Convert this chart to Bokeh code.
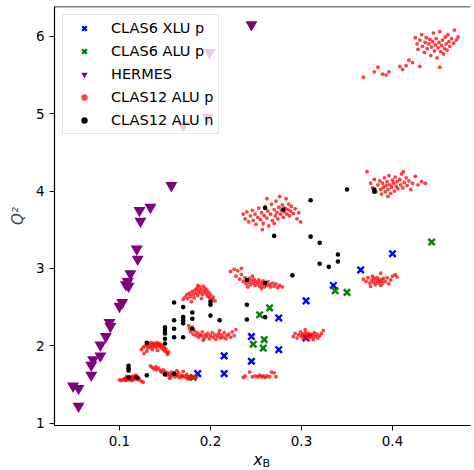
from bokeh.plotting import figure
from bokeh.models import Range1d, FixedTicker, Span, Title
from bokeh.embed import file_html
from bokeh.resources import INLINE

# ---------------- data ----------------
# CLAS6 XLU p
xlu6_x = [0.186, 0.215, 0.215, 0.245, 0.245, 0.275, 0.275, 0.305, 0.305, 0.335, 0.365, 0.400]
xlu6_y = [1.64, 1.64, 1.87, 1.80, 2.12, 1.95, 2.36, 2.10, 2.58, 2.78, 2.98, 3.19]

# CLAS6 ALU p
alu6_x = [0.181, 0.247, 0.258, 0.259, 0.254, 0.265, 0.337, 0.350, 0.443]
alu6_y = [1.59, 2.02, 1.97, 2.08, 2.40, 2.49, 2.71, 2.69, 3.34]

# HERMES
hermes_x = [0.055, 0.049, 0.055, 0.069, 0.069, 0.071, 0.079, 0.079, 0.085, 0.089, 0.090,
            0.100, 0.103, 0.107, 0.109, 0.110, 0.112, 0.120, 0.119, 0.123, 0.122, 0.134,
            0.157, 0.170, 0.197, 0.199, 0.245]
hermes_y = [1.22, 1.48, 1.45, 1.62, 1.75, 1.82, 1.87, 2.01, 2.12, 2.30, 2.25,
            2.51, 2.56, 2.79, 2.83, 2.77, 2.93, 3.12, 3.25, 3.61, 3.75, 3.79,
            4.07, 4.85, 4.95, 5.79, 6.15]

# CLAS12 ALU n
n12_x = [0.110, 0.110, 0.110, 0.110, 0.119, 0.130, 0.130, 0.150, 0.150, 0.150, 0.150, 0.150, 0.150,
         0.160, 0.160, 0.160, 0.160, 0.160, 0.170, 0.170, 0.170, 0.170, 0.170, 0.180, 0.180, 0.180,
         0.200, 0.200, 0.200, 0.210, 0.240, 0.240, 0.240, 0.260, 0.260, 0.260, 0.270, 0.280, 0.290,
         0.310, 0.310, 0.320, 0.320, 0.330, 0.340, 0.340, 0.350, 0.380, 0.380]
n12_y = [1.59, 1.68, 1.71, 1.74, 1.59, 1.62, 2.04, 1.63, 2.03, 2.09, 2.16, 2.20, 2.24,
         1.64, 2.11, 2.22, 2.33, 2.56, 2.11, 2.29, 2.33, 2.37, 2.50, 2.22, 2.35, 2.43,
         2.39, 2.53, 2.57, 2.33, 2.34, 2.53, 2.85, 2.37, 2.81, 3.78, 3.42, 3.76, 2.91,
         3.41, 3.88, 3.06, 3.33, 3.02, 3.09, 3.18, 4.02, 3.99, 4.02]

# CLAS12 ALU p  (one list of (xB, Q2) per kinematic bin)
p12_bin_a = [(0.100, 1.56), (0.102, 1.55), (0.104, 1.57), (0.105, 1.56), (0.106, 1.58), (0.107, 1.55),
             (0.108, 1.57), (0.109, 1.59), (0.110, 1.58), (0.110, 1.56), (0.111, 1.60), (0.112, 1.57),
             (0.112, 1.59), (0.113, 1.58), (0.114, 1.60), (0.114, 1.56), (0.115, 1.59), (0.116, 1.57),
             (0.116, 1.61), (0.117, 1.58), (0.118, 1.60), (0.119, 1.57), (0.120, 1.59), (0.121, 1.56),
             (0.122, 1.58), (0.124, 1.54), (0.126, 1.53), (0.108, 1.60), (0.113, 1.55), (0.118, 1.62)]
p12_bin_b = [(0.124, 1.95), (0.126, 1.98), (0.128, 2.00), (0.130, 2.01), (0.131, 1.97), (0.132, 2.03),
             (0.133, 2.00), (0.134, 1.98), (0.135, 2.04), (0.136, 2.02), (0.137, 1.99), (0.138, 2.03),
             (0.139, 2.01), (0.140, 1.98), (0.141, 2.04), (0.142, 2.02), (0.143, 1.99), (0.144, 2.03),
             (0.145, 2.00), (0.146, 1.97), (0.147, 2.01), (0.148, 1.95), (0.149, 1.98), (0.150, 1.93),
             (0.151, 1.96), (0.152, 1.91), (0.153, 1.89), (0.154, 1.92), (0.130, 1.93), (0.136, 1.95),
             (0.142, 1.94), (0.127, 1.90)]
p12_bin_c = [(0.134, 1.74), (0.136, 1.72), (0.138, 1.70), (0.140, 1.73), (0.141, 1.69), (0.143, 1.71),
             (0.145, 1.68), (0.146, 1.66), (0.148, 1.69), (0.149, 1.64), (0.150, 1.67), (0.152, 1.62),
             (0.153, 1.65), (0.155, 1.63), (0.156, 1.60), (0.157, 1.66), (0.158, 1.62), (0.160, 1.64),
             (0.161, 1.60), (0.162, 1.63), (0.164, 1.61), (0.165, 1.65), (0.166, 1.59), (0.168, 1.62),
             (0.169, 1.60), (0.170, 1.67), (0.171, 1.61), (0.173, 1.59), (0.174, 1.63), (0.176, 1.60),
             (0.177, 1.58), (0.179, 1.61), (0.181, 1.59), (0.183, 1.58), (0.185, 1.60), (0.163, 1.68),
             (0.175, 1.57), (0.155, 1.58)]
p12_bin_d = [(0.170, 2.60), (0.172, 2.63), (0.174, 2.66), (0.175, 2.61), (0.177, 2.68), (0.178, 2.64),
             (0.180, 2.70), (0.181, 2.66), (0.182, 2.62), (0.183, 2.72), (0.184, 2.68), (0.185, 2.74),
             (0.186, 2.65), (0.187, 2.71), (0.188, 2.76), (0.189, 2.69), (0.190, 2.73), (0.191, 2.66),
             (0.192, 2.77), (0.193, 2.70), (0.194, 2.74), (0.195, 2.67), (0.196, 2.72), (0.197, 2.64),
             (0.198, 2.69), (0.199, 2.62), (0.200, 2.66), (0.202, 2.60), (0.203, 2.63), (0.205, 2.58),
             (0.179, 2.57), (0.190, 2.61), (0.186, 2.78)]
p12_bin_e = [(0.176, 2.26), (0.177, 2.22), (0.178, 2.18), (0.180, 2.24), (0.181, 2.15), (0.182, 2.20),
             (0.184, 2.13), (0.185, 2.17), (0.187, 2.11), (0.188, 2.15), (0.190, 2.13), (0.191, 2.18),
             (0.193, 2.10), (0.194, 2.14), (0.196, 2.12), (0.197, 2.16), (0.199, 2.09), (0.200, 2.13),
             (0.202, 2.17), (0.203, 2.11), (0.205, 2.14), (0.206, 2.08), (0.208, 2.12), (0.209, 2.16),
             (0.211, 2.10), (0.212, 2.14), (0.214, 2.11), (0.215, 2.17), (0.217, 2.09), (0.218, 2.13),
             (0.220, 2.15), (0.222, 2.11), (0.224, 2.18), (0.226, 2.13), (0.228, 2.21), (0.192, 2.07),
             (0.210, 2.20)]
p12_bin_f = [(0.222, 2.96), (0.226, 2.99), (0.230, 2.97), (0.234, 3.00), (0.228, 2.90), (0.232, 2.86),
             (0.234, 2.92), (0.236, 2.83), (0.238, 2.88), (0.239, 2.80), (0.240, 2.85), (0.242, 2.82),
             (0.243, 2.87), (0.244, 2.79), (0.245, 2.84), (0.247, 2.81), (0.248, 2.86), (0.249, 2.78),
             (0.250, 2.83), (0.252, 2.80), (0.253, 2.85), (0.254, 2.77), (0.255, 2.82), (0.257, 2.79),
             (0.258, 2.84), (0.259, 2.76), (0.260, 2.81), (0.262, 2.78), (0.263, 2.83), (0.265, 2.79),
             (0.266, 2.76), (0.268, 2.81), (0.270, 2.77), (0.272, 2.80), (0.274, 2.75), (0.276, 2.78),
             (0.279, 2.76), (0.246, 2.90), (0.256, 2.74), (0.241, 2.76)]
p12_bin_g = [(0.236, 1.59), (0.238, 1.61), (0.243, 1.66), (0.246, 1.60), (0.249, 1.61), (0.252, 1.60),
             (0.254, 1.62), (0.256, 1.60), (0.258, 1.61), (0.260, 1.59), (0.262, 1.61), (0.265, 1.60),
             (0.267, 1.66), (0.270, 1.65), (0.272, 1.60)]
p12_bin_h = [(0.291, 2.12), (0.293, 2.16), (0.295, 2.10), (0.297, 2.14), (0.299, 2.18), (0.300, 2.12),
             (0.301, 2.15), (0.302, 2.09), (0.303, 2.13), (0.304, 2.17), (0.305, 2.11), (0.306, 2.14),
             (0.307, 2.16), (0.308, 2.10), (0.309, 2.13), (0.310, 2.15), (0.311, 2.11), (0.312, 2.14),
             (0.314, 2.17), (0.315, 2.12), (0.317, 2.15), (0.318, 2.10), (0.320, 2.13), (0.322, 2.16),
             (0.324, 2.20), (0.313, 2.08), (0.304, 2.21)]
p12_bin_i = [(0.236, 3.70), (0.238, 3.64), (0.240, 3.73), (0.242, 3.60), (0.244, 3.68), (0.246, 3.75),
             (0.247, 3.62), (0.249, 3.70), (0.250, 3.57), (0.252, 3.66), (0.253, 3.78), (0.255, 3.63),
             (0.256, 3.72), (0.258, 3.58), (0.259, 3.68), (0.260, 3.80), (0.262, 3.65), (0.263, 3.74),
             (0.264, 3.55), (0.266, 3.70), (0.267, 3.83), (0.268, 3.62), (0.270, 3.76), (0.271, 3.68),
             (0.272, 3.87), (0.273, 3.72), (0.274, 3.64), (0.275, 3.79), (0.276, 3.93), (0.277, 3.70),
             (0.278, 3.75), (0.279, 3.82), (0.280, 3.66), (0.281, 3.73), (0.282, 3.78), (0.283, 3.90),
             (0.284, 3.70), (0.285, 3.76), (0.286, 3.83), (0.287, 3.68), (0.288, 3.74), (0.289, 3.80),
             (0.291, 3.71), (0.293, 3.77), (0.295, 3.64), (0.297, 3.72), (0.299, 3.60), (0.262, 3.90),
             (0.257, 3.50), (0.270, 3.58)]
p12_bin_j = [(0.368, 2.86), (0.371, 2.83), (0.373, 2.88), (0.375, 2.81), (0.377, 2.85), (0.378, 2.90),
             (0.379, 2.82), (0.380, 2.87), (0.381, 2.79), (0.382, 2.84), (0.383, 2.88), (0.384, 2.81),
             (0.385, 2.86), (0.386, 2.83), (0.387, 2.78), (0.388, 2.85), (0.389, 2.81), (0.390, 2.87),
             (0.392, 2.83), (0.394, 2.88), (0.396, 2.80), (0.398, 2.85), (0.400, 2.90), (0.403, 2.92),
             (0.405, 2.89), (0.387, 2.94), (0.376, 2.77)]
p12_bin_k = [(0.372, 4.25), (0.376, 4.10), (0.378, 4.04), (0.380, 4.15), (0.382, 3.99), (0.384, 4.08),
             (0.386, 4.13), (0.387, 4.02), (0.388, 3.96), (0.389, 4.10), (0.390, 4.05), (0.391, 4.17),
             (0.392, 3.99), (0.393, 4.07), (0.394, 4.12), (0.395, 4.02), (0.396, 4.20), (0.397, 4.08),
             (0.398, 3.97), (0.399, 4.05), (0.400, 4.14), (0.401, 4.10), (0.402, 4.00), (0.403, 4.18),
             (0.404, 4.06), (0.405, 4.12), (0.406, 4.03), (0.408, 4.15), (0.409, 4.08), (0.410, 4.22),
             (0.411, 4.04), (0.413, 4.11), (0.415, 4.17), (0.416, 4.07), (0.418, 4.13), (0.420, 4.02),
             (0.422, 4.10), (0.425, 4.19), (0.428, 4.08), (0.432, 4.12), (0.436, 4.10), (0.395, 3.93),
             (0.412, 4.25)]
p12_bin_l = [(0.368, 5.47), (0.380, 5.54), (0.384, 5.60), (0.389, 5.51), (0.393, 5.50), (0.396, 5.54),
             (0.408, 5.61), (0.411, 5.57), (0.415, 5.62), (0.418, 5.69), (0.422, 5.66), (0.430, 5.61),
             (0.452, 5.60),
             (0.425, 5.98), (0.427, 5.90), (0.428, 5.83), (0.430, 5.95), (0.432, 6.02), (0.433, 5.87),
             (0.435, 5.79), (0.436, 5.92), (0.437, 5.98), (0.438, 5.84), (0.440, 5.90), (0.441, 5.96),
             (0.442, 5.75), (0.443, 5.86), (0.444, 5.93), (0.445, 6.04), (0.446, 5.81), (0.447, 5.89),
             (0.448, 5.97), (0.449, 5.72), (0.450, 5.85), (0.451, 5.92), (0.452, 6.06), (0.453, 5.80),
             (0.454, 5.88), (0.455, 5.95), (0.456, 5.77), (0.457, 5.84), (0.458, 5.99), (0.459, 5.90),
             (0.460, 5.82), (0.461, 6.02), (0.462, 5.93), (0.463, 5.87), (0.465, 5.97), (0.467, 5.91),
             (0.468, 6.08), (0.470, 5.95), (0.472, 5.99)]

p12_bins = [p12_bin_a, p12_bin_b, p12_bin_c, p12_bin_d, p12_bin_e, p12_bin_f,
            p12_bin_g, p12_bin_h, p12_bin_i, p12_bin_j, p12_bin_k, p12_bin_l]
p12_x = [pt[0] for b in p12_bins for pt in b]
p12_y = [pt[1] for b in p12_bins for pt in b]

x_ticks = [0.1, 0.2, 0.3, 0.4]
y_ticks = [1, 2, 3, 4, 5, 6]
x_lo, x_hi = 0.0286, 0.4857
y_lo, y_hi = 0.970, 6.384

# ---------------- figure ----------------
FONT = "DejaVu Sans"
p = figure(width=474, height=470, output_backend="svg", toolbar_location=None,
           x_range=Range1d(x_lo, x_hi), y_range=Range1d(y_lo, y_hi),
           min_border_left=54, min_border_right=4, min_border_top=6, min_border_bottom=45)
p.grid.visible = False
p.outline_line_color = None
p.background_fill_color = "white"
p.border_fill_color = "white"

p.scatter(xlu6_x, xlu6_y, marker="x", size=9, line_width=2.4, color="blue",
          legend_label="CLAS6 XLU p")
p.scatter(alu6_x, alu6_y, marker="x", size=9, line_width=2.4, color="green",
          legend_label="CLAS6 ALU p")
p.scatter(hermes_x, hermes_y, marker="inverted_triangle", size=12, color="purple",
          line_color=None, legend_label="HERMES")
p.scatter(p12_x, p12_y, marker="circle", size=3.8, fill_color="red", fill_alpha=0.75,
          line_color=None, legend_label="CLAS12 ALU p")
p.scatter(n12_x, n12_y, marker="circle", size=4.6, fill_color="black",
          line_color=None, legend_label="CLAS12 ALU n")

# top spine
p.add_layout(Span(location=y_hi, dimension="width", line_color="black", line_width=1.5))

for ax in (p.xaxis[0], p.yaxis[0]):
    ax.axis_line_color = "black"
    ax.axis_line_width = 1.2
    ax.major_tick_out = 5
    ax.major_tick_in = 0
    ax.minor_tick_out = 0
    ax.minor_tick_in = 0
    ax.major_tick_line_color = "black"
    ax.major_label_text_font = FONT
    ax.major_label_text_font_size = "13.5px"
    ax.major_label_text_color = "black"
    ax.axis_label_text_font = FONT
    ax.axis_label_text_font_size = "15px"
    ax.axis_label_text_font_style = "italic"

p.xaxis.ticker = FixedTicker(ticks=x_ticks)
p.yaxis.ticker = FixedTicker(ticks=y_ticks)
p.xaxis.major_label_standoff = 5
p.yaxis.major_label_standoff = 5
p.xaxis.axis_label = None
p.yaxis.axis_label = "Q²"
p.yaxis.axis_label_standoff = 6

# x-axis label "x" with subscript "B", as two titles below the axis
t_x = Title(text="x", align="left", offset=199, standoff=0,
            text_font=FONT, text_font_size="15px", text_font_style="italic",
            text_color="black")
t_b = Title(text="B", align="left", offset=208, standoff=-24, vertical_align="top",
            text_font=FONT, text_font_size="11px", text_font_style="normal",
            text_color="black")
p.add_layout(t_x, "below")
p.add_layout(t_b, "below")

lg = p.legend[0]
lg.location = "top_left"
lg.margin = 8
lg.padding = 5
lg.spacing = 7
lg.glyph_width = 32
lg.glyph_height = 16
lg.label_height = 16
lg.label_standoff = 11
lg.label_text_font = FONT
lg.label_text_font_size = "14.5px"
lg.label_text_color = "black"
lg.border_line_color = "#cccccc"
lg.background_fill_alpha = 0.8

open("out.html", "w").write(file_html(p, INLINE))
